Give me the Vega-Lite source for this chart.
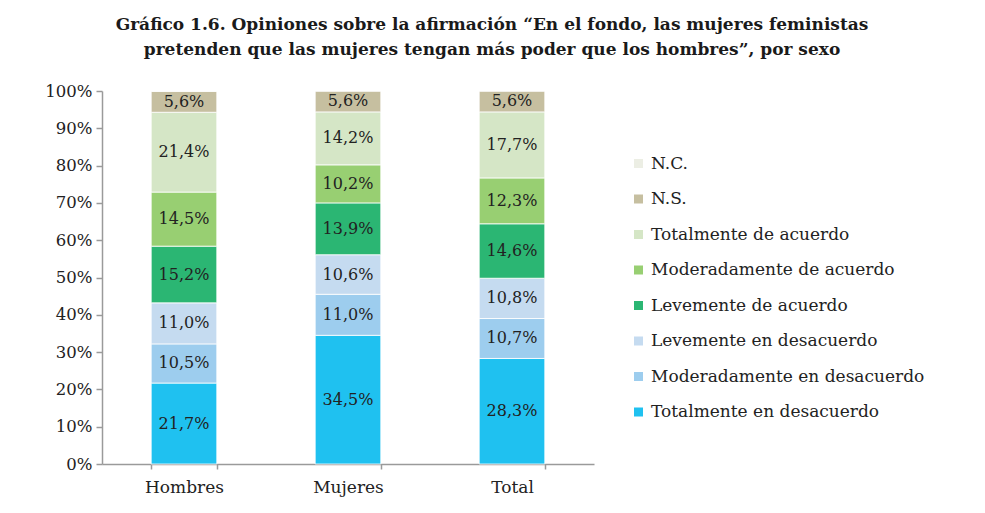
{
  "$schema": "https://vega.github.io/schema/vega-lite/v6.json",
  "width": 492,
  "height": 373,
  "autosize": {"type": "none"},
  "padding": {"left": 102, "top": 91, "right": 391, "bottom": 49},
  "background": "white",
  "config": {
    "locale": {"number": {"decimal": ",", "thousands": ".", "grouping": [3], "currency": ["", " €"]}},
    "view": {"stroke": null},
    "font": "DejaVu Serif"
  },
  "title": {
    "text": ["Gráfico 1.6. Opiniones sobre la afirmación “En el fondo, las mujeres feministas", "pretenden que las mujeres tengan más poder que los hombres”, por sexo"],
    "font": "DejaVu Serif",
    "fontSize": 17,
    "fontWeight": "bold",
    "color": "#1a1a1a",
    "lineHeight": 25,
    "anchor": "middle",
    "frame": "group",
    "dx": 144,
    "offset": 24
  },
  "data": {
    "values": [
      {"sexo": "Hombres", "resp": "Totalmente en desacuerdo", "rank": 1, "v": 0.217},
      {"sexo": "Hombres", "resp": "Moderadamente en desacuerdo", "rank": 2, "v": 0.105},
      {"sexo": "Hombres", "resp": "Levemente en desacuerdo", "rank": 3, "v": 0.110},
      {"sexo": "Hombres", "resp": "Levemente de acuerdo", "rank": 4, "v": 0.152},
      {"sexo": "Hombres", "resp": "Moderadamente de acuerdo", "rank": 5, "v": 0.145},
      {"sexo": "Hombres", "resp": "Totalmente de acuerdo", "rank": 6, "v": 0.214},
      {"sexo": "Hombres", "resp": "N.S.", "rank": 7, "v": 0.056},
      {"sexo": "Hombres", "resp": "N.C.", "rank": 8, "v": 0.001},
      {"sexo": "Mujeres", "resp": "Totalmente en desacuerdo", "rank": 1, "v": 0.345},
      {"sexo": "Mujeres", "resp": "Moderadamente en desacuerdo", "rank": 2, "v": 0.110},
      {"sexo": "Mujeres", "resp": "Levemente en desacuerdo", "rank": 3, "v": 0.106},
      {"sexo": "Mujeres", "resp": "Levemente de acuerdo", "rank": 4, "v": 0.139},
      {"sexo": "Mujeres", "resp": "Moderadamente de acuerdo", "rank": 5, "v": 0.102},
      {"sexo": "Mujeres", "resp": "Totalmente de acuerdo", "rank": 6, "v": 0.142},
      {"sexo": "Mujeres", "resp": "N.S.", "rank": 7, "v": 0.056},
      {"sexo": "Mujeres", "resp": "N.C.", "rank": 8, "v": 0.0},
      {"sexo": "Total", "resp": "Totalmente en desacuerdo", "rank": 1, "v": 0.283},
      {"sexo": "Total", "resp": "Moderadamente en desacuerdo", "rank": 2, "v": 0.107},
      {"sexo": "Total", "resp": "Levemente en desacuerdo", "rank": 3, "v": 0.108},
      {"sexo": "Total", "resp": "Levemente de acuerdo", "rank": 4, "v": 0.146},
      {"sexo": "Total", "resp": "Moderadamente de acuerdo", "rank": 5, "v": 0.123},
      {"sexo": "Total", "resp": "Totalmente de acuerdo", "rank": 6, "v": 0.177},
      {"sexo": "Total", "resp": "N.S.", "rank": 7, "v": 0.056},
      {"sexo": "Total", "resp": "N.C.", "rank": 8, "v": 0.0}
    ]
  },
  "encoding": {
    "x": {
      "field": "sexo",
      "type": "nominal",
      "sort": ["Hombres", "Mujeres", "Total"],
      "scale": {"paddingInner": 0.6, "paddingOuter": 0.3},
      "axis": {
        "title": null,
        "labelAngle": 0,
        "labelFont": "DejaVu Serif",
        "labelFontSize": 17,
        "labelColor": "#222222",
        "labelPadding": 10,
        "domainColor": "#9a9a9a",
        "domainWidth": 1.5,
        "tickColor": "#9a9a9a",
        "tickWidth": 1.5,
        "tickSize": 5,
        "tickBand": "extent"
      }
    },
    "y": {
      "field": "v",
      "type": "quantitative",
      "stack": "zero",
      "scale": {"domain": [0, 1]},
      "axis": {
        "title": null,
        "format": ".0%",
        "values": [0, 0.1, 0.2, 0.3, 0.4, 0.5, 0.6, 0.7, 0.8, 0.9, 1],
        "grid": false,
        "labelFont": "DejaVu Serif",
        "labelFontSize": 16.5,
        "labelColor": "#222222",
        "labelPadding": 4,
        "domainColor": "#9a9a9a",
        "domainWidth": 1.5,
        "tickColor": "#9a9a9a",
        "tickWidth": 1.5,
        "tickSize": 6
      }
    },
    "order": {"field": "rank", "type": "quantitative", "sort": "ascending"}
  },
  "layer": [
    {
      "mark": {"type": "bar", "stroke": "white", "strokeWidth": 0.8},
      "encoding": {
        "color": {
          "field": "resp",
          "type": "nominal",
          "scale": {
            "domain": ["N.C.", "N.S.", "Totalmente de acuerdo", "Moderadamente de acuerdo", "Levemente de acuerdo", "Levemente en desacuerdo", "Moderadamente en desacuerdo", "Totalmente en desacuerdo"],
            "range": ["#ECEEE4", "#C6BFA0", "#D5E6C6", "#98CF72", "#2BB673", "#C5DBF0", "#9DCDEE", "#1FC1F0"]
          },
          "legend": {
            "title": null,
            "orient": "none",
            "legendX": 528,
            "legendY": 64,
            "padding": 0,
            "symbolType": "square",
            "symbolSize": 81,
            "symbolStrokeWidth": 0,
            "labelFont": "DejaVu Serif",
            "labelFontSize": 17,
            "labelColor": "#222222",
            "labelOffset": 4,
            "rowPadding": 17.5,
            "labelLimit": 400
          }
        }
      }
    },
    {
      "transform": [{"filter": "datum.v >= 0.01"}],
      "mark": {"type": "text", "font": "DejaVu Serif", "fontSize": 16, "color": "#222222", "baseline": "middle"},
      "encoding": {
        "y": {"field": "v", "type": "quantitative", "stack": "zero", "bandPosition": 0.5},
        "text": {"field": "v", "type": "quantitative", "format": ".1%"}
      }
    }
  ]
}
